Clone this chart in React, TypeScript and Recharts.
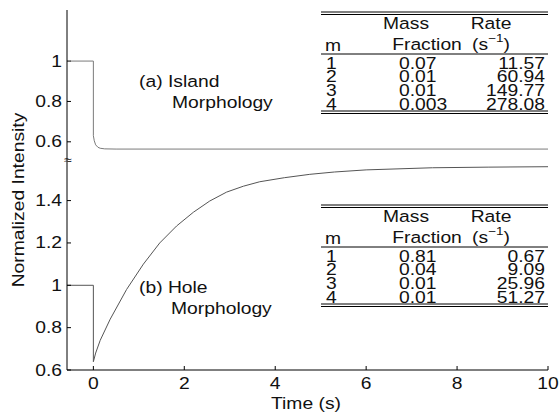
import React from 'react';
import { LineChart, Line, XAxis, YAxis } from 'recharts';

// ---- data ----
const islandTime = [-0.5, 0, 0, 0.02, 0.05, 0.1, 0.15, 0.25, 0.5, 10];
const islandValue = [1, 1, 0.63, 0.605, 0.585, 0.573, 0.568, 0.565, 0.564, 0.564];

const holeTime = [-0.58, 0, 0, 0.05, 0.15, 0.37, 0.73, 1.1, 1.46, 1.83, 2.2, 2.56, 2.93, 3.3, 3.66, 4.2, 4.76, 5.3, 6.0, 7.46, 8.7, 10];
const holeValue = [1, 1, 0.639, 0.68, 0.74, 0.84, 0.98, 1.1, 1.2, 1.28, 1.345, 1.398, 1.44, 1.468, 1.489, 1.508, 1.524, 1.535, 1.545, 1.555, 1.558, 1.56];

const xTicks = [0, 2, 4, 6, 8, 10];
const yTicksLower = [0.6, 0.8, 1, 1.2, 1.4];
const yTicksUpper = [0.6, 0.8, 1];

const tableM = ['1', '2', '3', '4'];
const islandFraction = ['0.07', '0.01', '0.01', '0.003'];
const islandRate = ['11.57', '60.94', '149.77', '278.08'];
const holeFraction = ['0.81', '0.04', '0.01', '0.01'];
const holeRate = ['0.67', '9.09', '25.96', '51.27'];

// broken axis: upper panel mapped onto the shared axis
const UPPER_BASE = 1.6776;
const UPPER_SCALE = 0.953;
const toUpper = (v: number) => UPPER_BASE + (v - 0.6) * UPPER_SCALE;

const islandData = islandTime.map((t, i) => ({ t, v: toUpper(islandValue[i]) }));
const holeData = holeTime.map((t, i) => ({ t, v: holeValue[i] }));

const yTickPos: number[] = [];
const yTickLabel: Record<string, string> = {};
yTicksLower.forEach((v) => {
  yTickPos.push(v);
  yTickLabel[v.toFixed(4)] = String(v);
});
yTicksUpper.forEach((v) => {
  const p = toUpper(v);
  yTickPos.push(p);
  yTickLabel[p.toFixed(4)] = String(v);
});

const FONT = '"Liberation Sans", Arial, Helvetica, sans-serif';
const FS = 16.5;
const SX = 1.17;

type TProps = {
  x: number;
  y: number;
  anchor?: 'start' | 'middle' | 'end';
  rotate?: number;
  size?: number;
  central?: boolean;
  children: React.ReactNode;
};

const T = ({ x, y, anchor = 'start', rotate = 0, size = FS, central = true, children }: TProps) => (
  <text
    x={0}
    y={0}
    transform={`translate(${x},${y}) rotate(${rotate}) scale(${SX},1)`}
    textAnchor={anchor}
    dominantBaseline={central ? 'central' : 'auto'}
    fontSize={size}
    fontFamily={FONT}
    fill="#111"
  >
    {children}
  </text>
);

const YTick = (props: any) => {
  const { x, y, payload } = props;
  const label = yTickLabel[Number(payload.value).toFixed(4)] ?? '';
  return (
    <g>
      <line x1={x + 5} x2={x + 9} y1={y} y2={y} stroke="#000" strokeWidth={1} />
      <T x={x} y={y} anchor="end">{label}</T>
    </g>
  );
};

const XTick = (props: any) => {
  const { x, y, payload } = props;
  return (
    <g>
      <line x1={x} x2={x} y1={y - 4} y2={y - 8} stroke="#000" strokeWidth={1} />
      <T x={x} y={y + 15} anchor="middle" central={false}>{String(payload.value)}</T>
    </g>
  );
};

const Table = ({ top, fractions, rates }: { top: number; fractions: string[]; rates: string[] }) => {
  const x0 = 321;
  const x1 = 548;
  return (
    <g>
      <line x1={x0} x2={x1} y1={top} y2={top} stroke="#000" strokeWidth={1} />
      <line x1={x0} x2={x1} y1={top + 2.5} y2={top + 2.5} stroke="#000" strokeWidth={1} />
      <T x={406} y={top + 11} anchor="middle">Mass</T>
      <T x={491} y={top + 11} anchor="middle">Rate</T>
      <T x={325} y={top + 33}>m</T>
      <T x={427} y={top + 32} anchor="middle">Fraction</T>
      <T x={491} y={top + 32} anchor="middle">
        (s
        <tspan dy={-6} fontSize={11.5}>−1</tspan>
        <tspan dy={6}>)</tspan>
      </T>
      <line x1={x0} x2={x1} y1={top + 42} y2={top + 42} stroke="#000" strokeWidth={1} />
      {tableM.map((m, i) => (
        <g key={m}>
          <T x={326} y={top + 51 + i * 13.8}>{m}</T>
          <T x={399} y={top + 51 + i * 13.8}>{fractions[i]}</T>
          <T x={545} y={top + 51 + i * 13.8} anchor="end">{rates[i]}</T>
        </g>
      ))}
      <line x1={x0} x2={x1} y1={top + 99} y2={top + 99} stroke="#000" strokeWidth={1} />
      <line x1={x0} x2={x1} y1={top + 101.5} y2={top + 101.5} stroke="#000" strokeWidth={1} />
    </g>
  );
};

export default function App() {
  return (
    <div style={{ position: 'absolute', left: 0, top: 0, width: 560, height: 414, background: '#fff', fontFamily: FONT }}>
      <LineChart width={560} height={414} margin={{ top: 10, right: 12, bottom: 14, left: 17 }}>
        <XAxis
          dataKey="t"
          type="number"
          domain={[-0.58, 10]}
          ticks={xTicks}
          allowDataOverflow
          height={30}
          tickLine={false}
          tickSize={0}
          tickMargin={4}
          tick={<XTick />}
          axisLine={{ stroke: '#000', strokeWidth: 1 }}
        />
        <YAxis
          type="number"
          domain={[0.6, 2.3]}
          ticks={yTickPos}
          allowDataOverflow
          width={50}
          tickLine={false}
          tickSize={0}
          tickMargin={5}
          tick={<YTick />}
          interval={0}
          axisLine={{ stroke: '#000', strokeWidth: 1 }}
        />
        <Line data={islandData} dataKey="v" type="linear" dot={false} stroke="#7a7a7a" strokeWidth={1} isAnimationActive={false} />
        <Line data={holeData} dataKey="v" type="linear" dot={false} stroke="#555" strokeWidth={1} isAnimationActive={false} />
      </LineChart>
      <svg width={560} height={414} style={{ position: 'absolute', left: 0, top: 0, pointerEvents: 'none' }}>
        <Table top={12} fractions={islandFraction} rates={islandRate} />
        <Table top={205} fractions={holeFraction} rates={holeRate} />
        <T x={139} y={81}>(a) Island</T>
        <T x={172} y={102}>Morphology</T>
        <T x={139} y={287}>(b) Hole</T>
        <T x={171} y={308}>Morphology</T>
        <T x={68} y={160} anchor="middle" size={12}>≈</T>
        <T x={306} y={403} anchor="middle">Time (s)</T>
        <T x={18} y={200} anchor="middle" rotate={-90}>Normalized Intensity</T>
      </svg>
    </div>
  );
}
